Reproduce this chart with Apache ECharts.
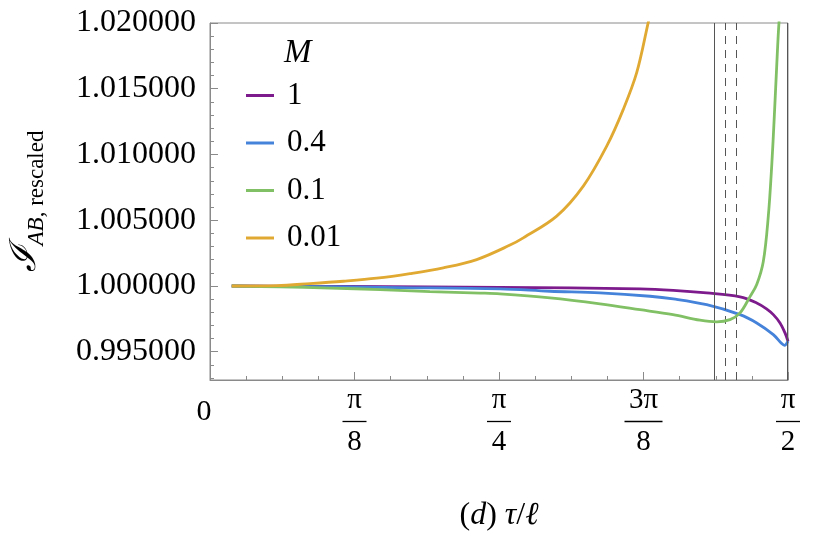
<!DOCTYPE html>
<html>
<head>
<meta charset="utf-8">
<script src="https://cdn.jsdelivr.net/npm/echarts@6/dist/echarts.min.js"></script>
<style>
  html, body { margin: 0; padding: 0; background: #fff; }
  #main { width: 814px; height: 540px; }
</style>
</head>
<body>
<div id="main"></div>
<script>
const PI = Math.PI;

// series names (legend, title "M")
const massNames = ["1", "0.4", "0.1", "0.01"];
const colors = ["#7d1a8c", "#4582d9", "#82c065", "#e0a932"];

// tau / l values and rescaled I_AB values
const tauM1 = [0.059, 0.3805, 0.7881, 1.1686, 1.2591, 1.3498, 1.4404, 1.4858, 1.5124, 1.5309, 1.5491, 1.5627, 1.5708];
const valM1 = [1.0, 0.99996, 0.9999, 0.99978, 0.99967, 0.99947, 0.99917, 0.99871, 0.99826, 0.99782, 0.99719, 0.99643, 0.99579];

const tauM04 = [0.059, 0.2446, 0.5163, 0.7881, 0.924, 1.0599, 1.1958, 1.2591, 1.3498, 1.4404, 1.4858, 1.5309, 1.5537, 1.5613, 1.5708];
const valM04 = [1.0, 0.99996, 0.99988, 0.99978, 0.9996, 0.99947, 0.99922, 0.99902, 0.99858, 0.99782, 0.99719, 0.9963, 0.99562, 0.99549, 0.99581];

const tauM01 = [0.059, 0.1902, 0.3261, 0.462, 0.5979, 0.7338, 0.7881, 0.924, 1.0599, 1.1686, 1.2583, 1.3316, 1.377, 1.4132, 1.4404, 1.4675, 1.4858, 1.5037, 1.5173, 1.5265, 1.5336, 1.5401, 1.5464, 1.5518];
const valM01 = [1.0, 0.99993, 0.99984, 0.99973, 0.99957, 0.99946, 0.9994, 0.99909, 0.99864, 0.9982, 0.99782, 0.9974, 0.99727, 0.99744, 0.99795, 0.99919, 1.00011, 1.00186, 1.00531, 1.00912, 1.01292, 1.01672, 1.02007, 1.02142];

const tauM001 = [0.059, 0.1813, 0.2718, 0.3623, 0.453, 0.5435, 0.634, 0.7248, 0.8153, 0.8514, 0.9422, 1.0145, 1.0781, 1.1232, 1.1596, 1.1912, 1.1985];
const valM001 = [1.0, 1.00003, 1.00018, 1.00036, 1.00059, 1.00094, 1.00138, 1.00201, 1.00311, 1.00366, 1.00531, 1.00759, 1.01063, 1.01343, 1.01622, 1.02007, 1.0210];

// vertical reference lines
const solidLines = [1.3744, PI / 2];
const dashedLines = [1.4042, 1.4341];

// axis ticks
const xTickNum = ["", "π", "π", "3π", "π"];
const xTickDen = ["0", "8", "4", "8", "2"];
const yMin = 0.99285;
const yMax = 1.02;
const yMajor = [0.995, 1.0, 1.005, 1.01, 1.015, 1.02];
const yMinor = [0.993, 0.994, 0.996, 0.997, 0.998, 0.999, 1.001, 1.002, 1.003, 1.004,
  1.006, 1.007, 1.008, 1.009, 1.011, 1.012, 1.013, 1.014, 1.016, 1.017, 1.018, 1.019];

const zip = (a, b) => a.map((t, i) => [t, b[i]]);
const taus = [tauM1, tauM04, tauM01, tauM001];
const vals = [valM1, valM04, valM01, valM001];

const serif = "Liberation Serif";
const frameColor = "#8a8a8a";

const series = massNames.map((n, i) => ({
  name: n,
  type: "line",
  symbol: "none",
  smooth: 0.35,
  clip: true,
  lineStyle: { width: 2.8, color: colors[i] },
  itemStyle: { color: colors[i] },
  data: zip(taus[i], vals[i]),
  z: 3 + i,
}));

// reference lines on the first series
series[0].markLine = {
  silent: true,
  symbol: "none",
  label: { show: false },
  data: solidLines.map((x) => ({ xAxis: x, lineStyle: { type: "solid", color: "#555", width: 1 } }))
    .concat(dashedLines.map((x) => ({ xAxis: x, lineStyle: { type: [8, 6], color: "#555", width: 1 } }))),
};

const myChart = echarts.init(document.getElementById("main"));
myChart.setOption({
  animation: false,
  title: {
    text: "M",
    left: 279,
    top: 32,
    textStyle: { fontFamily: serif, fontStyle: "italic", fontWeight: "normal", fontSize: 33, color: "#000" },
  },
  legend: {
    orient: "vertical",
    left: 241,
    top: 75,
    itemWidth: 28,
    itemHeight: 14,
    itemGap: 16.5,
    icon: "path://M0,5.5 L28,5.5 L28,8.5 L0,8.5 Z",
    data: massNames,
    textStyle: { fontFamily: serif, fontSize: 31, color: "#000", padding: [0, 0, 0, 8] },
  },
  grid: {
    left: 210,
    right: 26,
    top: 23,
    bottom: 160,
    show: true,
    borderColor: frameColor,
    borderWidth: 1,
  },
  xAxis: {
    type: "value",
    min: 0,
    max: PI / 2,
    interval: PI / 8,
    name: "{p|(}{i|d}{p|) }{i|τ}{p|/}{i|ℓ}",
    nameLocation: "middle",
    nameGap: 120,
    nameTextStyle: {
      rich: {
        p: { fontFamily: serif, fontSize: 32, color: "#000" },
        i: { fontFamily: serif, fontStyle: "italic", fontSize: 32, color: "#000" },
      },
    },
    axisLine: { lineStyle: { color: frameColor } },
    axisTick: { inside: true, length: 8, lineStyle: { color: frameColor } },
    minorTick: { show: true, splitNumber: 4, length: 4, lineStyle: { color: frameColor } },
    splitLine: { show: false },
    axisLabel: {
      margin: 5,
      showMaxLabel: true,
      formatter: (v) => {
        const k = Math.round(v / (PI / 8));
        if (k === 0) return "{g| }\n{z|0}";
        return "{n|" + xTickNum[k] + "}\n{g| }\n{d|" + xTickDen[k] + "}";
      },
      rich: {
        n: { fontFamily: serif, fontSize: 29, lineHeight: 30, color: "#000" },
        d: { fontFamily: serif, fontSize: 29, lineHeight: 30, color: "#000" },
        z: { fontFamily: serif, fontSize: 30, lineHeight: 30, color: "#000", padding: [0, 12, 0, 0] },
        g: { fontSize: 8, lineHeight: 12 },
      },
    },
  },
  yAxis: [
    {
      type: "value",
      min: yMin,
      max: yMax,
      name: "{i|ℐ}{s|AB}{r|, rescaled}",
      nameLocation: "middle",
      nameRotate: 90,
      nameGap: 162,
      nameTextStyle: {
        rich: {
          i: { fontFamily: "DejaVu Serif", fontStyle: "italic", fontSize: 36, lineHeight: 44, color: "#000" },
          s: { fontFamily: serif, fontStyle: "italic", fontSize: 23, lineHeight: 23, verticalAlign: "bottom", color: "#000" },
          r: { fontFamily: serif, fontSize: 23, lineHeight: 23, verticalAlign: "bottom", color: "#000" },
        },
      },
      axisLine: { show: true, lineStyle: { color: frameColor } },
      axisTick: { show: true, inside: true, length: 8, customValues: yMajor, lineStyle: { color: frameColor } },
      splitLine: { show: false },
      axisLabel: {
        margin: 14,
        customValues: yMajor,
        formatter: (v) => v.toFixed(6),
        fontFamily: serif,
        fontSize: 32,
        color: "#000",
      },
    },
    {
      type: "value",
      min: yMin,
      max: yMax,
      position: "left",
      axisLine: { show: false },
      axisTick: { show: true, inside: true, length: 4, customValues: yMinor, lineStyle: { color: frameColor } },
      axisLabel: { show: false },
      splitLine: { show: false },
    },
  ],
  series: series,
});

// fraction bars under the pi numerators of the x tick labels
function drawFractionBars() {
  const yAxisPx = myChart.convertToPixel({ yAxisIndex: 0 }, yMin);
  const bars = [];
  for (let k = 1; k < xTickNum.length; k++) {
    const x = myChart.convertToPixel({ xAxisIndex: 0 }, (k * PI) / 8);
    const half = xTickNum[k].length > 1 ? 19 : 12;
    bars.push({
      type: "line",
      silent: true,
      shape: { x1: x - half, y1: yAxisPx + 41.5, x2: x + half, y2: yAxisPx + 41.5 },
      style: { stroke: "#000", lineWidth: 1.3 },
    });
  }
  myChart.setOption({ graphic: bars }, { replaceMerge: ["graphic"] });
}
drawFractionBars();

window.onresize = function () {
  myChart.resize();
  drawFractionBars();
};
</script>
</body>
</html>
